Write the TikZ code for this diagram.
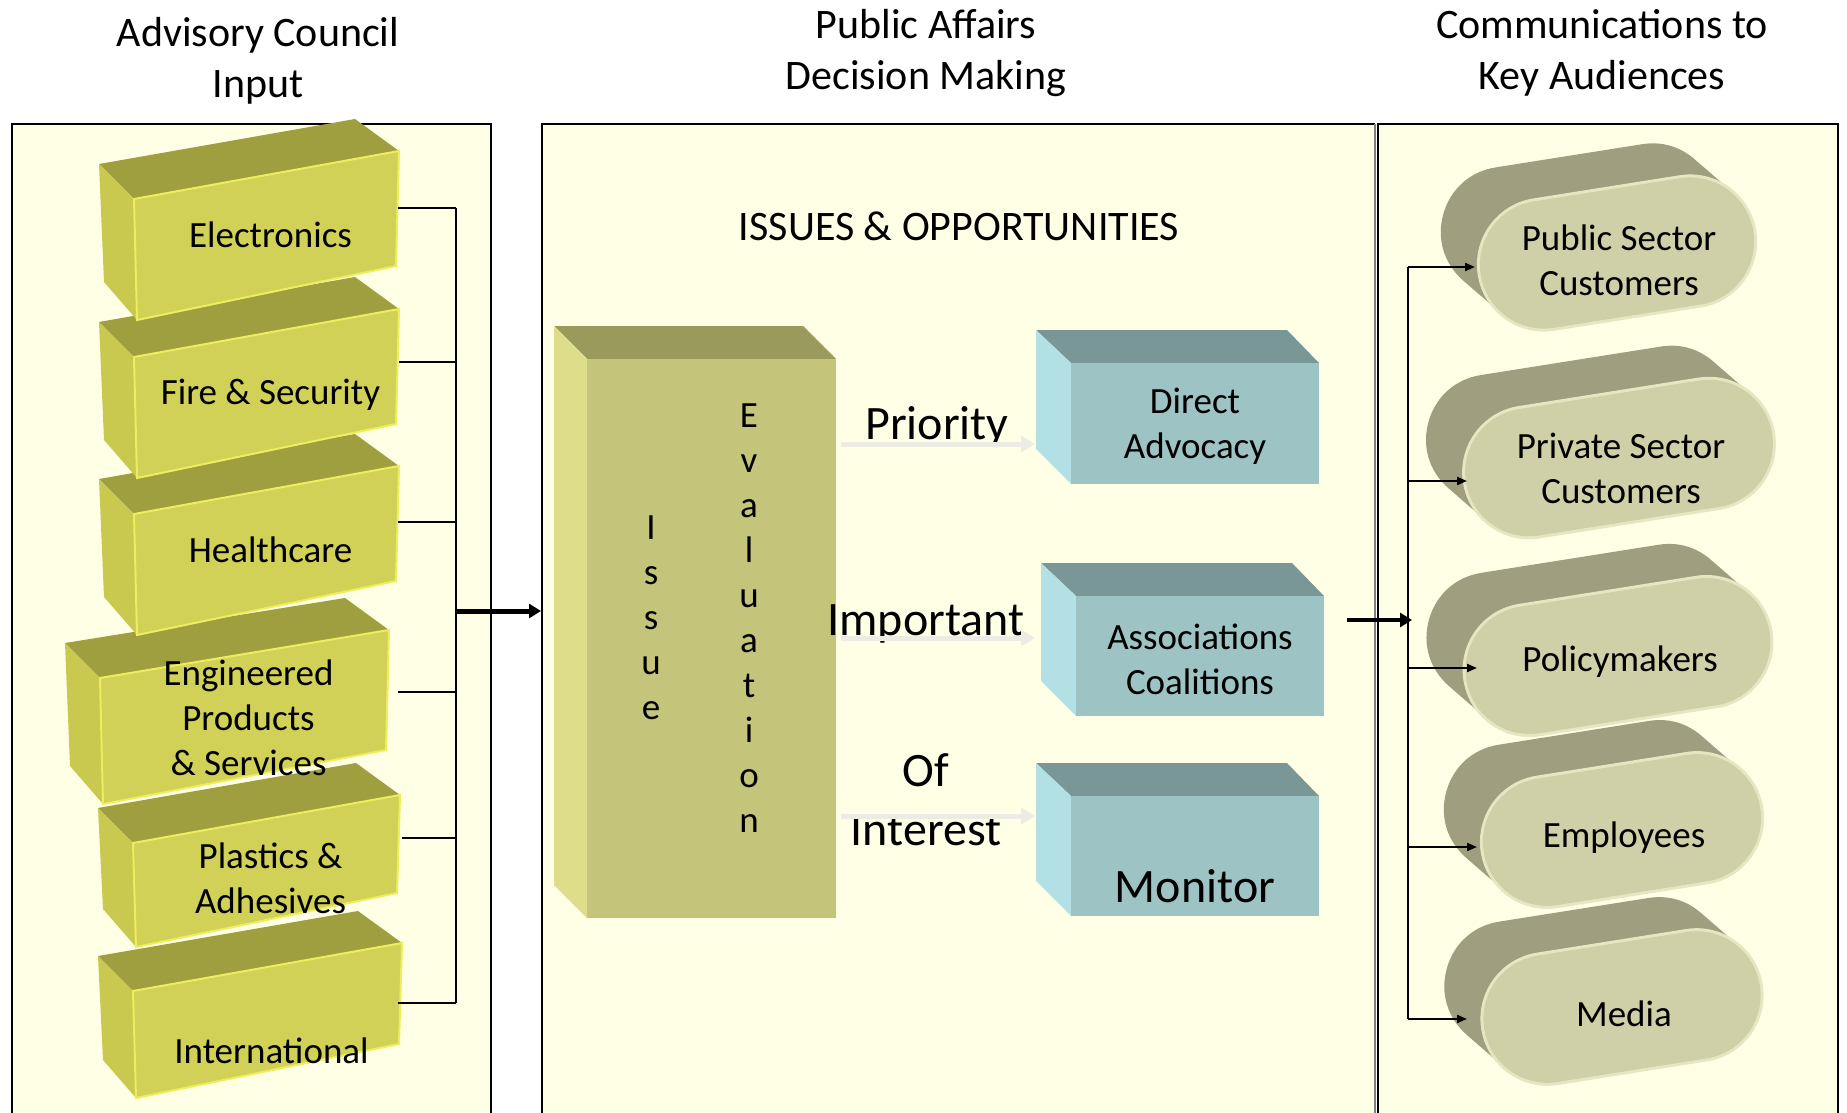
\documentclass[tikz,border=0pt]{standalone}
\usepackage{fontspec}
\setmainfont{Carlito}
\usepackage{xcolor}
\usepackage{tikz}
\usetikzlibrary{positioning}
\usetikzlibrary{arrows.meta}
\usetikzlibrary{calc}

\definecolor{panelbg}{HTML}{FFFFE6}
\definecolor{yfrontc}{HTML}{D1D157}
\definecolor{ytopc}{HTML}{A09F40}
\definecolor{ysidec}{HTML}{C9C94F}
\definecolor{yedgec}{HTML}{EDED5E}
\definecolor{ifrontc}{HTML}{C4C47A}
\definecolor{itopc}{HTML}{9A9A5C}
\definecolor{isidec}{HTML}{DEDE8A}
\definecolor{tfrontc}{HTML}{9DC3C4}
\definecolor{ttopc}{HTML}{7A9798}
\definecolor{tsidec}{HTML}{B3E0E4}
\definecolor{cfrontc}{HTML}{D0D0A8}
\definecolor{cbackc}{HTML}{9F9F80}
\definecolor{crimc}{HTML}{E6E6C2}
\definecolor{fadec}{HTML}{ECECE4}

\tikzstyle{panel}=[fill=panelbg]
\tikzstyle{border}=[draw=black,line width=1pt]
\tikzstyle{head}=[font=\fontsize{21}{25.5}\selectfont,align=center]
\tikzstyle{boxlabel}=[font=\fontsize{18.5}{22.5}\selectfont,align=center,inner sep=0pt]
\tikzstyle{biglabel}=[font=\fontsize{24}{29.5}\selectfont,align=center,inner sep=0pt]
\tikzstyle{ytop}=[fill=ytopc]
\tikzstyle{yside}=[fill=ysidec]
\tikzstyle{yfront}=[fill=yfrontc,draw=yedgec,line width=1pt]
\tikzstyle{itop}=[fill=itopc]
\tikzstyle{iside}=[fill=isidec]
\tikzstyle{ifront}=[fill=ifrontc]
\tikzstyle{ttop}=[fill=ttopc]
\tikzstyle{tside}=[fill=tsidec]
\tikzstyle{tfront}=[fill=tfrontc]
\tikzstyle{stub}=[draw,line width=1.2pt]
\tikzstyle{bigedge}=[draw,line width=2.5pt,-{Triangle[length=6pt,width=7pt]}]
\tikzstyle{edge}=[draw,line width=1pt,-{Triangle[length=5pt,width=4pt]}]
\tikzstyle{fadeedge}=[draw=fadec,line width=2.5pt,-{Triangle[length=7pt,width=8pt]}]
\tikzset{capback/.style={draw=cbackc,fill=cbackc,line width=65pt,line join=round},
  caprim/.style={draw=crimc,line width=67pt,line cap=round},
  capfront/.style={draw=cfrontc,line width=64pt,line cap=round}}

\begin{document}
\begin{tikzpicture}[x=0.5pt,y=-0.5pt]
  \useasboundingbox (0,0) rectangle (1847,1113);

  % panels
  \fill[panel] (12,124) rectangle (491,1113);
  \fill[panel] (542,124) rectangle (1375,1113);
  \fill[panel] (1378,124) rectangle (1838,1113);
  \draw[border] (12,1113) -- (12,124) -- (491,124) -- (491,1113);
  \draw[border] (542,1113) -- (542,124) -- (1375,124);
  \draw[draw=gray,line width=1pt] (1375,124) -- (1375,1113);
  \draw[border] (1378,1113) -- (1378,124) -- (1838,124) -- (1838,1113);

  \node[head] (council) at (258,61) {Advisory Council\\Input};
  \node[head] (affairs) at (926,53) {Public Affairs\\Decision Making};
  \node[head] (comms) at (1602,53) {Communications to\\Key Audiences};
  \node[head] (issues) at (959,226) {ISSUES \& OPPORTUNITIES};

  % advisory council boxes, bottom one first
  \foreach \x/\y/\w/\h/\dy/\name/\label in {
      133/991/269/107/31/intl/International,
      133/843/267/104/8/plast/{Plastics \&\\Adhesives},
      100/678/289/126/2/eng/{Engineered\\Products\\\& Services},
      134/514/265/121/0/health/Healthcare,
      134/357/265/121/2/fire/{Fire \& Security},
      134/199/265/121/0/elec/Electronics}
  {
    \fill[ytop] (\x-35,\y-35) -- (\x,\y) -- (\x+\w,\y-48) -- (\x+\w-44,\y-80) -- cycle;
    \fill[yside] (\x-35,\y-35) -- (\x,\y) -- (\x+3,\y+\h) -- (\x-30,\y+\h-38) -- cycle;
    \filldraw[yfront] (\x,\y) -- (\x+\w,\y-48) -- (\x+\w-3,\y+\h-54) -- (\x+3,\y+\h) -- cycle;
    \node[boxlabel] (\name) at (\x+\w/2+4,\y+\h/2-25+\dy) {\label};
  }

  \foreach \name/\x/\y in {elec/398/208, fire/399/362, health/398/522, eng/398/692, plast/402/838, intl/398/1003}
    \coordinate (\name-out) at (\x,\y);
  \coordinate (bustop) at (456,208);
  \coordinate (busbot) at (456,1003);
  \coordinate (busmid) at (456,611);
  \coordinate (affairs-in) at (541,611);

  \foreach \name in {elec, fire, health, eng, plast, intl}
    \path[stub] (\name-out) -- (\name-out -| bustop);
  \path[stub] (bustop) -- (busbot);
  \path[bigedge] (busmid) -- (affairs-in);

  % issue evaluation
  \fill[itop] (554,326) -- (587,359) -- (836,359) -- (803,326) -- cycle;
  \fill[iside] (554,326) -- (587,359) -- (587,918) -- (554,885) -- cycle;
  \fill[ifront] (587,359) rectangle (836,918);
  \node[boxlabel] (issue) at (651,618) {I\\s\\s\\u\\e};
  \node[boxlabel] (evaluation) at (749,618) {E\\v\\a\\l\\u\\a\\t\\i\\o\\n};

  \foreach \x/\y/\h/\name/\label in {1071/363/121/direct/{Direct\\Advocacy}, 1076/596/120/assoc/{Associations\\Coalitions}, 1071/796/120/monitor/{}}
  {
    \fill[ttop] (\x-35,\y-33) -- (\x,\y) -- (\x+248,\y) -- (\x+216,\y-33) -- cycle;
    \fill[tside] (\x-35,\y-33) -- (\x,\y) -- (\x,\y+\h) -- (\x-35,\y+\h-35) -- cycle;
    \fill[tfront] (\x,\y) rectangle (\x+248,\y+\h);
    \node[boxlabel] (\name) at (\x+124,\y+63) {\label};
  }
  \node[biglabel] (monitor-text) at (1195,886) {Monitor};

  \node[biglabel] (priority) at (937,427) {Priority};
  \node[biglabel] (important) at (926,624) {Important};
  \node[biglabel] (interest) at (926,800) {Of\\Interest};

  \foreach \name/\y in {prio/444, imp/638, int/816}
  {
    \coordinate (\name-a) at (841,\y);
    \coordinate (\name-b) at (1035,\y);
  }
  \foreach \name in {prio, imp, int}
    \path[fadeedge] (\name-a) -- (\name-b);

  % key audiences, bottom one first
  \foreach \cx/\cy/\l/\name/\label/\ty in {
      1622/1007/151/media/Media/1014,
      1622/830/152/employ/Employees/838,
      1618/656/179/policy/Policymakers/662,
      1619/458/182/priv/{Private Sector\\Customers}/468,
      1617/253/148/pub/{Public Sector\\Customers}/260}
  {
    \coordinate (\name-l) at ($(\cx,\cy)+(171:\l/2)$);
    \coordinate (\name-r) at ($(\cx,\cy)+(-9:\l/2)$);
    \filldraw[capback] (\name-l) -- (\name-r) -- ($(\name-r)+(-38,-33)$) -- ($(\name-l)+(-38,-33)$) -- cycle;
    \draw[caprim] (\name-l) -- (\name-r);
    \draw[capfront] (\name-l) -- (\name-r);
    \node[boxlabel] (\name) at (\cx+2,\ty) {\label};
  }

  \coordinate (assoc-out) at (1347,620);
  \coordinate (bus-in) at (1412,620);
  \coordinate (rbustop) at (1408,267);
  \coordinate (rbusbot) at (1408,1019);
  \path[stub,line width=1pt] (rbustop) -- (rbusbot);
  \path[bigedge,line width=2pt] (assoc-out) -- (bus-in);

  \foreach \name/\x/\y in {pub/1475/267, priv/1467/481, policy/1477/668, employ/1477/847, media/1467/1019}
  {
    \coordinate (\name-in) at (\x,\y);
    \path[edge] (\name-in -| rbustop) -- (\name-in);
  }
\end{tikzpicture}
\end{document}
